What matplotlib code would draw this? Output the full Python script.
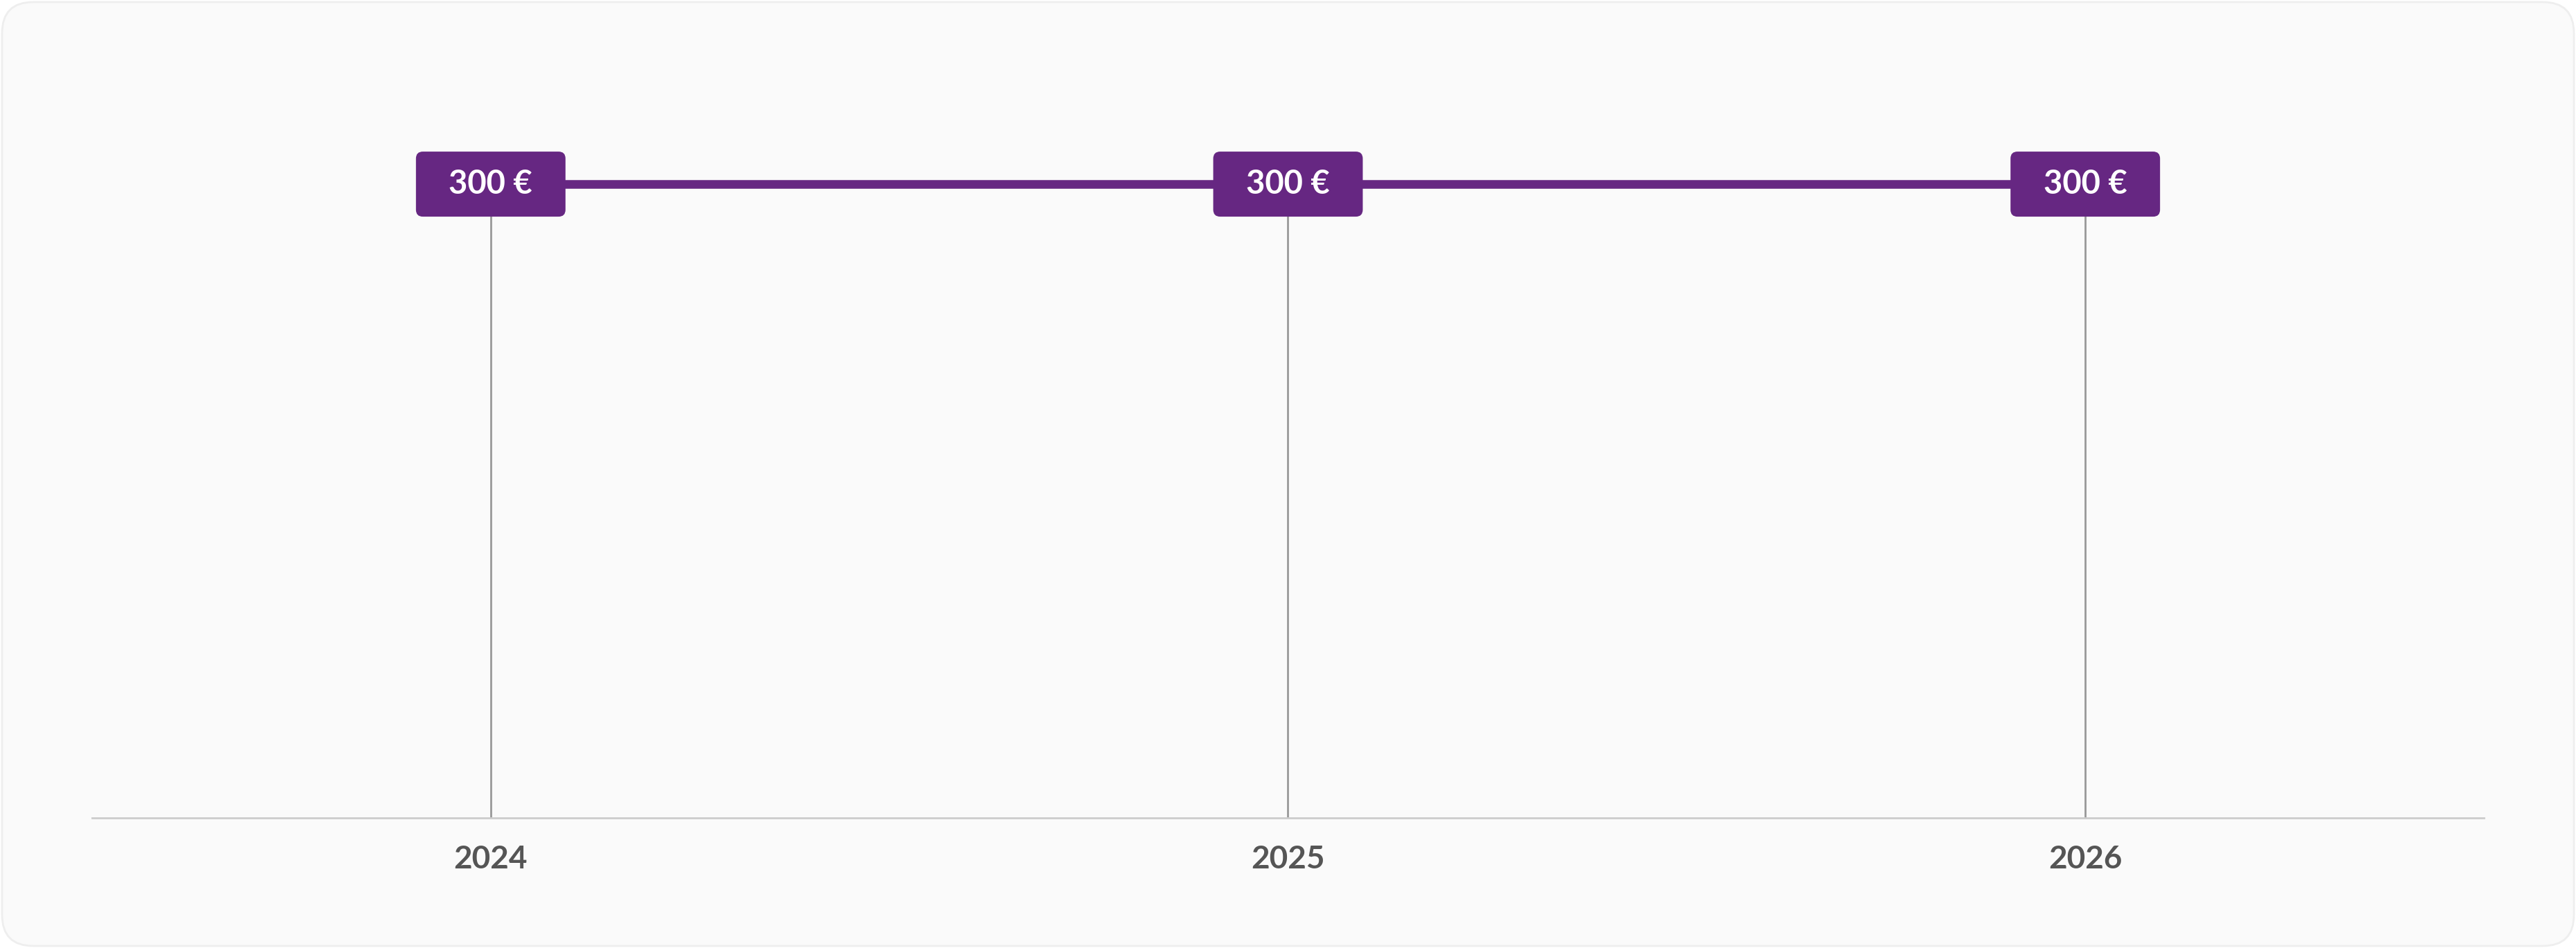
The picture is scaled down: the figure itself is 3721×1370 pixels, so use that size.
import matplotlib.pyplot as plt
import matplotlib.transforms as mtransforms
from matplotlib.patches import FancyBboxPatch

years = [2024, 2025, 2026]
values = [300, 300, 300]
labels = ['300 €', '300 €', '300 €']

purple = '#662782'

fig = plt.figure(figsize=(37.21, 13.70), dpi=100)
fig.patch.set_facecolor('white')
bg = FancyBboxPatch((3, 3), 3715, 1364, boxstyle='round,pad=0,rounding_size=45',
                    transform=mtransforms.IdentityTransform(),
                    facecolor='#fafafa', edgecolor='#eeeeee', linewidth=2, zorder=-10)
fig.patches.append(bg)

ax = fig.add_axes([133 / 3721, 188 / 1370, 3455 / 3721, 1082 / 1370])
ax.set_facecolor('none')
ax.set_zorder(1)
ax.set_xlim(2023.5, 2026.5)
ax.set_ylim(0, 354.4)
for s in ['top', 'right', 'left']:
    ax.spines[s].set_visible(False)
ax.spines['bottom'].set_color('#cccccc')
ax.spines['bottom'].set_linewidth(2)
ax.set_yticks([])
ax.set_xticks(years)
ax.set_xticklabels([str(y) for y in years], fontsize=33, fontweight='bold',
                   color='#555555', family='Lato')
ax.tick_params(axis='x', length=0, pad=28)

ax.vlines(years, 0, values, color='#999999', linewidth=2, zorder=1)
ax.plot(years, values, color=purple, linewidth=9, zorder=2, solid_capstyle='butt')

for x, v, lab in zip(years, values, labels):
    off = ax.transData.transform((x, v))
    box = FancyBboxPatch((off[0] - 108, off[1] - 47), 216, 94,
                         boxstyle='round,pad=0,rounding_size=10',
                         transform=mtransforms.IdentityTransform(),
                         facecolor=purple, edgecolor='none', zorder=3)
    ax.add_artist(box)
    ax.text(x, v, lab, ha='center', va='center', fontsize=34, fontweight='bold',
            color='white', family='Lato', zorder=4)

fig.savefig('out.png', dpi=100)
